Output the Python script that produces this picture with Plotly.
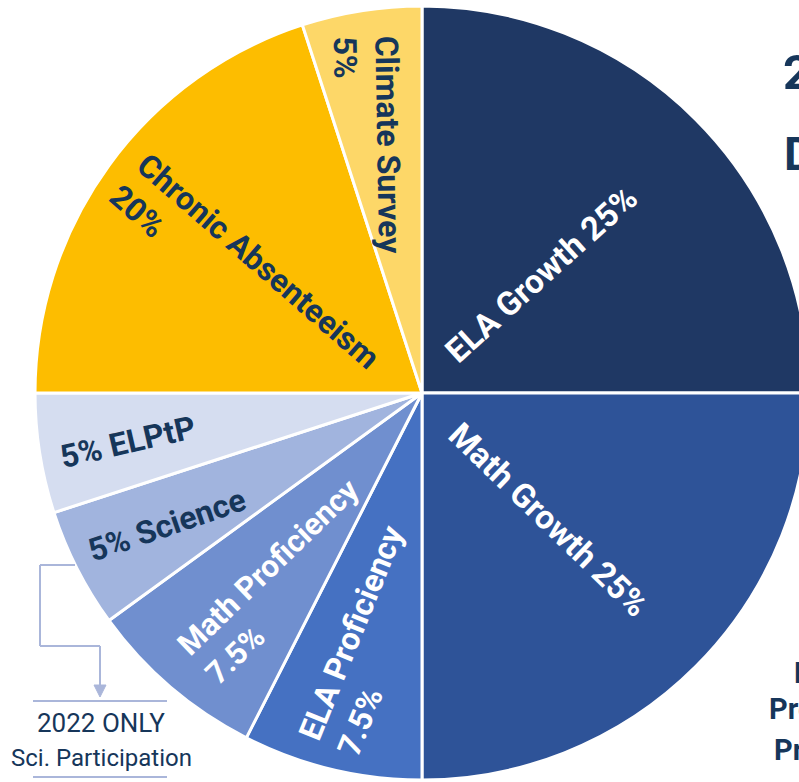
import math
import plotly.graph_objects as go

# Accountability weighting components (percent of total score)
components = [
    "ELA Growth", "Math Growth", "ELA Proficiency", "Math Proficiency",
    "Science", "ELPtP", "Chronic Absenteeism", "Climate Survey",
]
weights = [25, 25, 7.5, 7.5, 5, 5, 20, 5]
label_templates = [
    "{name} {pct}", "{name} {pct}", "{name}<br>{pct}", "{name}<br>{pct}",
    "{pct} {name}", "{pct} {name}", "{name}<br>{pct}", "{name}<br>{pct}",
]

# Slice styling
slice_colors = ["#1f3864", "#2e5398", "#4571c2", "#708fcf",
                "#a1b4de", "#d5ddf0", "#fdbd00", "#fdd768"]
text_colors = ["#ffffff", "#ffffff", "#ffffff", "#ffffff",
               "#16365a", "#16365a", "#16365a", "#16365a"]
label_radius = [0.434, 0.462, 0.651, 0.607, 0.742, 0.770, 0.548, 0.656]
label_shift = [0, 0, -1.8, -4, -0.4, -0.5, -3, -3.5]
label_tilt = [-42, 44, -68, -44, -19, -13, 41, 89]
label_size = [33, 33, 32, 31, 32, 32, 32, 32]

W, H = 820, 782
CX, CY, R = 422, 393, 387
DARK = "#16365a"
GUIDE = "#aab6da"


def px(x):
    return x / W


def py(y):
    return 1 - y / H


fig = go.Figure(go.Pie(
    labels=components,
    values=weights,
    sort=False,
    direction="clockwise",
    rotation=0,
    textinfo="none",
    hoverinfo="label+value",
    marker=dict(colors=slice_colors, line=dict(color="white", width=3)),
    domain=dict(x=[px(CX - R), px(CX + R)], y=[py(CY + R), py(CY - R)]),
    showlegend=False,
))

annotations = []
total = sum(weights)
cum = 0.0
for i, (name, w) in enumerate(zip(components, weights)):
    mid = (cum + w / 2) / total * 360 + label_shift[i]
    cum += w
    rad = math.radians(mid)
    lx = CX + label_radius[i] * R * math.sin(rad)
    ly = CY - label_radius[i] * R * math.cos(rad)
    text = label_templates[i].format(name=name, pct=f"{w:g}%")
    annotations.append(dict(
        x=px(lx), y=py(ly), xref="paper", yref="paper",
        text=text, showarrow=False, align="left",
        xanchor="center", yanchor="middle", textangle=label_tilt[i],
        font=dict(family="Roboto", size=label_size[i], color=text_colors[i],
                  weight="bold"),
    ))

# Science participation note
annotations += [
    dict(x=px(101), y=py(723), xref="paper", yref="paper", text="2022 ONLY",
         showarrow=False, xanchor="center", yanchor="middle",
         font=dict(family="Roboto", size=26, color=DARK)),
    dict(x=px(101), y=py(758), xref="paper", yref="paper",
         text="Sci. Participation", showarrow=False,
         xanchor="center", yanchor="middle",
         font=dict(family="Roboto", size=24, color=DARK)),
]

# Heading and side text at the right edge
side_text = [("2", 781, 72, 49), ("D", 782, 154, 46),
             ("L", 792, 673, 29), ("Pre", 767, 709, 29), ("Pr", 772, 750, 29)]
for t, x, y, s in side_text:
    annotations.append(dict(
        x=px(x), y=py(y), xref="paper", yref="paper", text=t,
        showarrow=False, xanchor="left", yanchor="middle",
        font=dict(family="Roboto", size=s, color=DARK, weight="bold"),
    ))

shapes = []
bracket = [(75, 565), (40, 565), (40, 646), (100, 646), (100, 686)]
for (x0, y0), (x1, y1) in zip(bracket[:-1], bracket[1:]):
    shapes.append(dict(type="line", xref="paper", yref="paper",
                       x0=px(x0), y0=py(y0), x1=px(x1), y1=py(y1),
                       line=dict(color=GUIDE, width=2)))
shapes.append(dict(
    type="path", xref="paper", yref="paper",
    path=f"M {px(94)} {py(685)} L {px(106)} {py(685)} L {px(100)} {py(697)} Z",
    fillcolor=GUIDE, line=dict(color=GUIDE, width=1)))
for yy in (701, 777):
    shapes.append(dict(type="line", xref="paper", yref="paper",
                       x0=px(33), y0=py(yy), x1=px(167), y1=py(yy),
                       line=dict(color=GUIDE, width=2)))

fig.update_layout(
    width=W, height=H,
    margin=dict(l=0, r=0, t=0, b=0),
    paper_bgcolor="white", plot_bgcolor="white",
    annotations=annotations, shapes=shapes,
)

fig.write_html(
    "out.html",
    config={"displayModeBar": False},
    post_script="document.documentElement.style.overflow='hidden';"
                "document.body.style.overflow='hidden';"
                "document.body.style.margin='0';",
)
